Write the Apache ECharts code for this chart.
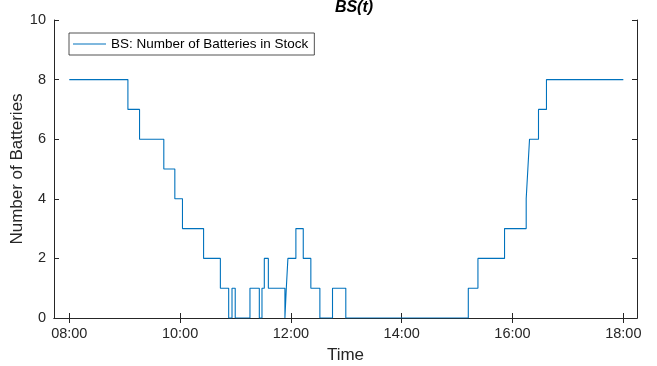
<!DOCTYPE html>
<html>
<head>
<meta charset="utf-8">
<script src="https://cdn.jsdelivr.net/npm/echarts@6/dist/echarts.min.js"></script>
<style>
  html, body { margin: 0; padding: 0; background: #fff; }
  #chart { width: 657px; height: 366px; }
</style>
</head>
<body>
<div id="chart"></div>
<script>
// change points, hours of the day; stock holds its value until the next point
const stockTimes = [8.0, 9.058, 9.268, 9.706, 9.905, 10.043, 10.424, 10.727, 10.877, 10.937,
  10.995, 11.261, 11.43, 11.478, 11.52, 11.593, 11.892, 11.917, 11.946, 12.09,
  12.223, 12.36, 12.523, 12.751, 12.991, 15.202, 15.376, 15.856, 16.247, 16.277,
  16.307, 16.469, 16.613, 18.0];
const stockValues = [8, 7, 6, 5, 4, 3, 2, 1, 0, 1,
  0, 1, 0, 1, 2, 1, 0, 1, 2, 3,
  2, 1, 0, 1, 0, 1, 2, 3, 4, 5,
  6, 7, 8, 8];
const timeTicks = [8, 10, 12, 14, 16, 18];
const seriesName = 'BS: Number of Batteries in Stock';

const FONT = '"Liberation Sans", Arial, Helvetica, sans-serif';
const INK = '#262626';
const X_MIN = 7.724, X_MAX = 18.247;

const fmtHour = (v) => String(Math.round(v)).padStart(2, '0') + ':00';

const chart = echarts.init(document.getElementById('chart'), null, { renderer: 'canvas' });

const tickStyle = { show: true, inside: true, length: 5, lineStyle: { color: INK, width: 1 } };
const lineStyle = { show: true, lineStyle: { color: INK, width: 1 } };

chart.setOption({
  animation: false,
  backgroundColor: '#fff',
  title: {
    text: 'BS(t)',
    left: 349, top: -5, textAlign: 'center',
    textStyle: { fontFamily: FONT, fontSize: 16, fontWeight: 'bold', fontStyle: 'italic', color: '#000' }
  },
  legend: {
    left: 69, top: 33,
    padding: [4, 6, 4, 4],
    borderColor: INK, borderWidth: 0.8,
    backgroundColor: '#fff',
    icon: 'rect', itemWidth: 33, itemHeight: 1.2,
    textStyle: { fontFamily: FONT, fontSize: 13.5, color: '#000' },
    data: [seriesName]
  },
  grid: { left: 54, top: 20, width: 583, height: 298, containLabel: false, outerBoundsMode: 'none' },
  xAxis: [{
    type: 'value', min: X_MIN, max: X_MAX,
    axisLine: lineStyle,
    axisTick: Object.assign({ customValues: timeTicks }, tickStyle),
    splitLine: { show: false },
    axisLabel: {
      customValues: timeTicks, formatter: fmtHour, margin: 8,
      fontFamily: FONT, fontSize: 14.5, color: INK
    },
    name: 'Time', nameLocation: 'middle', nameGap: 29, nameMoveOverlap: false,
    nameTextStyle: { fontFamily: FONT, fontSize: 17, color: INK }
  }, {
    type: 'value', min: X_MIN, max: X_MAX, position: 'top',
    axisLine: lineStyle,
    axisTick: Object.assign({ customValues: timeTicks }, tickStyle),
    axisLabel: { show: false }, splitLine: { show: false }
  }],
  yAxis: [{
    type: 'value', min: 0, max: 10, interval: 2,
    axisLine: lineStyle, axisTick: tickStyle, splitLine: { show: false },
    axisLabel: { margin: 8, fontFamily: FONT, fontSize: 14.5, color: INK },
    name: 'Number of Batteries', nameLocation: 'middle', nameGap: 28, nameMoveOverlap: false,
    nameTextStyle: { fontFamily: FONT, fontSize: 17, color: INK }
  }, {
    type: 'value', min: 0, max: 10, interval: 2, position: 'right',
    axisLine: lineStyle, axisTick: tickStyle,
    axisLabel: { show: false }, splitLine: { show: false }
  }],
  series: [{
    name: seriesName,
    type: 'line',
    step: 'end',
    xAxisIndex: 0, yAxisIndex: 0,
    showSymbol: false, symbol: 'none',
    color: '#0072BD',
    lineStyle: { color: '#0072BD', width: 1.1 },
    data: stockTimes.map((t, i) => [t, stockValues[i]])
  }]
});
</script>
</body>
</html>
